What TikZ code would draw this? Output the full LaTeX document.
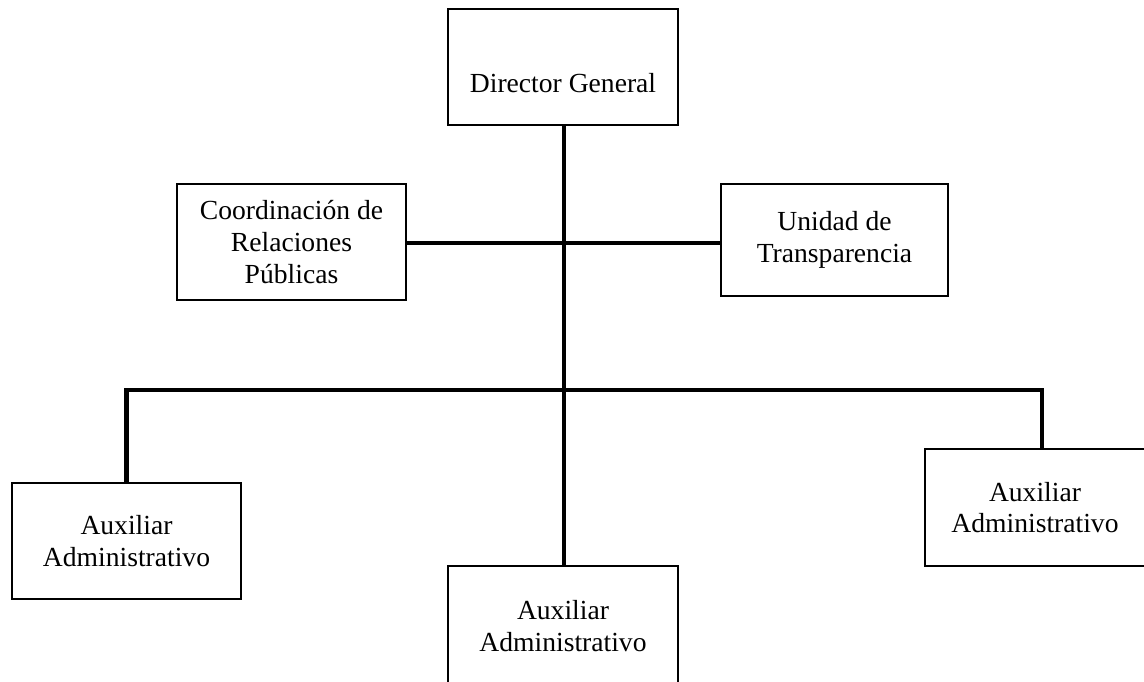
\documentclass[tikz,border=0pt]{standalone}
\usepackage{fontspec}
\setmainfont{Liberation Serif}
\begin{document}
\begin{tikzpicture}[x=1pt,y=-1pt,
  box/.style={draw=black,line width=1.6pt,rectangle,inner sep=0pt,align=center,
    font=\fontsize{27.6}{31.7}\selectfont},
  conn/.style={line width=4.4pt,draw=black}]
\clip (0,0) rectangle (1144,682);
\fill[white] (0,0) rectangle (1144,682);
\node[box,minimum width=230,minimum height=116,
  label={[font=\fontsize{27.6}{31.7}\selectfont,yshift=-16pt]center:Director General}] (dg) at (563,67) {};
\node[box,minimum width=229,minimum height=116] (crp) at (291.5,242) {Coordinación de\\Relaciones\\Públicas};
\node[box,minimum width=227,minimum height=112] (ut) at (834.5,240) {Unidad de\\Transparencia};
\node[box,minimum width=229,minimum height=116] (a1) at (126.5,541) {Auxiliar\\Administrativo};
\node[box,minimum width=230,minimum height=120] (a2) at (563,626) {Auxiliar\\Administrativo};
\node[box,minimum width=220,minimum height=117] (a3) at (1035,507.5) {Auxiliar\\Administrativo};
\coordinate (bus) at (564,390);
\draw[conn] ([xshift=1]dg.south) -- ([xshift=1]a2.north);
\draw[conn] ([yshift=-1]crp.east) -- ([yshift=-1]crp.east -| ut.west);
\draw[conn] (a1.north) |- (bus);
\draw[conn] (bus) -| ([xshift=7]a3.north);
\end{tikzpicture}
\end{document}
